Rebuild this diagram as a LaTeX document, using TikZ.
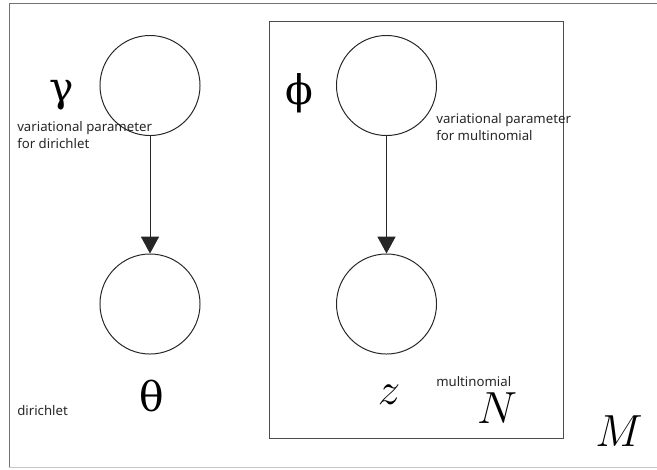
\documentclass[tikz,border=0pt]{standalone}
\usepackage{fix-cm}
\usepackage{fontspec}
\newfontfamily\notefont{Noto Sans}
\newfontfamily\greekfont{DejaVu Serif}
\usetikzlibrary{arrows.meta}

\tikzset{
  var/.style={circle,draw=black!85,line width=0.7pt,minimum size=2.5cm,inner sep=0pt},
  sym/.style={inner sep=0pt,anchor=base,font=\fontsize{32}{38}\selectfont},
  greek/.style={sym,font=\greekfont\fontsize{29}{34}\selectfont},
  note/.style={inner sep=0pt,anchor=base west,align=left,
    font=\notefont\fontsize{9.4}{12}\selectfont,text=black!85},
  plate/.style={draw=black!70,line width=0.7pt}
}

\begin{document}
\begin{tikzpicture}[x=0.025cm,y=-0.025cm,>={Triangle[length=4.2mm,width=4.5mm]},line cap=round]
\useasboundingbox (0,0) rectangle (657,469);
% outer plate, runs past the right edge
\draw[black!55,line width=0.7pt] (657,3) -- (9,3) -- (9,467);
\draw[black!22,line width=0.7pt] (9,467) -- (657,467);
% inner plate
\draw[plate] (269,21) rectangle (563,438);

\node[var] (gamma) at (150,85.5) {};
\node[var] (theta) at (150,304) {};
\node[var] (phi) at (386.5,85.5) {};
\node[var] (z) at (386.5,304) {};

\draw[->,black!85,line width=0.7pt] (gamma) -- (theta);
\draw[->,black!85,line width=0.7pt] (phi) -- (z);

\node[greek] (gammalbl) at (62,101) {γ};
\node[greek] (thetalbl) at (152,411) {θ};
\node[greek] (philbl) at (299,104) {ϕ};
\node[sym] (zlbl) at (389,404) {$z$};
\node[sym] (nlbl) at (497,423) {$N$};
\node[sym] (mlbl) at (619,446) {$M$};

\node[note] (gammanote) at (17,148) {variational parameter\\for dirichlet};
\node[note] (thetanote) at (17,415) {dirichlet};
\node[note] (phinote) at (436,140) {variational parameter\\for multinomial};
\node[note] (znote) at (436,386) {multinomial};
\end{tikzpicture}
\end{document}
